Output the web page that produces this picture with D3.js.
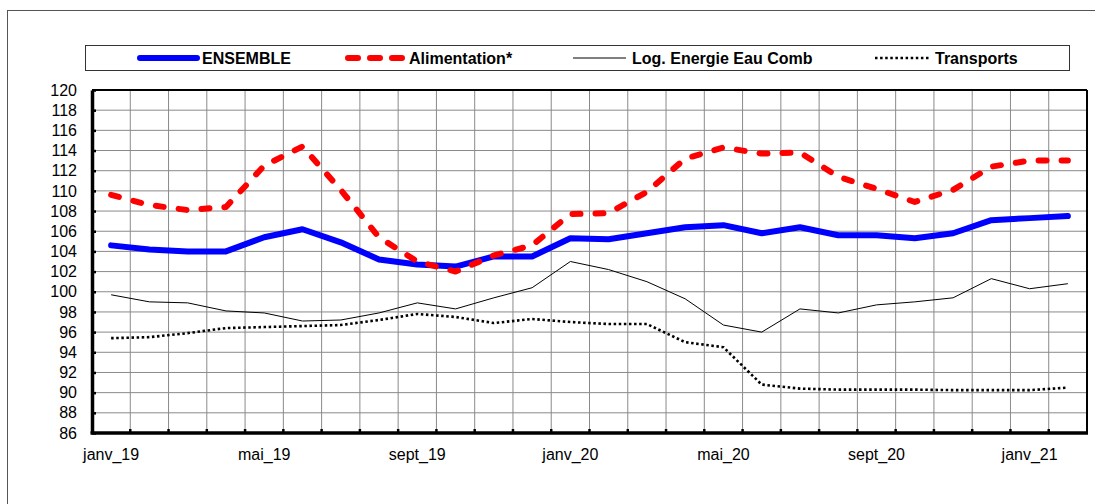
<!DOCTYPE html>
<html>
<head>
<meta charset="utf-8">
<script src="https://cdn.jsdelivr.net/npm/d3@7/dist/d3.min.js"></script>
<style>
  html, body { margin: 0; padding: 0; background: #fff; }
  svg { display: block; font-family: "Liberation Sans", Arial, sans-serif; }
</style>
</head>
<body>
<svg id="chart" width="1095" height="504"></svg>
<script>
const months = ["janv_19","févr_19","mars_19","avr_19","mai_19","juin_19","juil_19","août_19","sept_19","oct_19","nov_19","déc_19",
                "janv_20","févr_20","mars_20","avr_20","mai_20","juin_20","juil_20","août_20","sept_20","oct_20","nov_20","déc_20",
                "janv_21","févr_21"];
const shownLabels = ["janv_19","mai_19","sept_19","janv_20","mai_20","sept_20","janv_21"];
const yTicks = [86,88,90,92,94,96,98,100,102,104,106,108,110,112,114,116,118,120];

const ensemble = [104.6,104.2,104.0,104.0,105.4,106.2,104.9,103.2,102.7,102.5,103.5,103.5,105.3,105.2,105.8,106.4,106.6,105.8,106.4,105.6,105.6,105.3,105.8,107.1,107.3,107.5];
const alimentation = [109.6,108.6,108.1,108.4,112.5,114.4,110.1,105.4,103.0,102.0,103.6,104.6,107.7,107.8,109.9,113.2,114.3,113.7,113.8,111.4,110.2,108.9,110.1,112.4,113.0,113.0];
const logEnergie = [99.7,99.0,98.9,98.1,97.9,97.1,97.2,97.9,98.9,98.3,99.4,100.4,103.0,102.2,101.0,99.3,96.7,96.0,98.3,97.9,98.7,99.0,99.4,101.3,100.3,100.8];
const transports = [95.4,95.5,95.9,96.4,96.5,96.6,96.7,97.2,97.8,97.5,96.9,97.3,97.0,96.8,96.8,95.0,94.5,90.8,90.4,90.3,90.3,90.3,90.25,90.25,90.25,90.5];

const seriesNames = ["ENSEMBLE","Alimentation*","Log. Energie Eau Comb","Transports"];

const svg = d3.select("#chart");
const L = 92, R = 1087, T = 90, B = 433;

// outer frame
svg.append("rect").attr("x",7.5).attr("y",10.5).attr("width",1100).attr("height",510)
  .attr("fill","none").attr("stroke","#555").attr("stroke-width",1);

const x = d3.scaleBand().domain(months).range([L, R]).padding(0);
const y = d3.scaleLinear().domain([86,120]).range([B, T]);
const cx = d => x(d) + x.bandwidth()/2;

// grid
const g = svg.append("g");
g.selectAll("line.h").data(yTicks).join("line")
  .attr("x1",L).attr("x2",R).attr("y1",d=>y(d)).attr("y2",d=>y(d))
  .attr("stroke","#8a8a8a").attr("stroke-width",1);
const bounds = months.slice(1);
g.selectAll("line.v").data(bounds).join("line")
  .attr("x1",d=>x(d)).attr("x2",d=>x(d)).attr("y1",T).attr("y2",B)
  .attr("stroke","#8a8a8a").attr("stroke-width",1);

// x ticks (inward)
g.selectAll("line.xt").data(bounds).join("line")
  .attr("x1",d=>x(d)).attr("x2",d=>x(d)).attr("y1",B).attr("y2",B-4)
  .attr("stroke","#000").attr("stroke-width",2.5);

// border top/right
svg.append("line").attr("x1",L).attr("x2",R).attr("y1",T).attr("y2",T).attr("stroke","#000").attr("stroke-width",2);
svg.append("line").attr("x1",R).attr("x2",R).attr("y1",T).attr("y2",B).attr("stroke","#000").attr("stroke-width",2);

// y axis
const yAxis = d3.axisLeft(y).tickValues(yTicks).tickSizeInner(-4).tickSizeOuter(0).tickPadding(15);
const ya = svg.append("g").attr("transform",`translate(${L},0)`).call(yAxis);
ya.select(".domain").attr("stroke","#000").attr("stroke-width",3.5);
ya.selectAll(".tick line").attr("stroke","#000").attr("stroke-width",2.5);
ya.selectAll(".tick text").attr("font-size",16).attr("fill","#000").attr("font-family","Liberation Sans, Arial, sans-serif");

// x axis
const xAxis = d3.axisBottom(x).tickValues(shownLabels).tickSize(0).tickPadding(15.6);
const xa = svg.append("g").attr("transform",`translate(0,${B})`).call(xAxis);
xa.select(".domain").attr("stroke","#000").attr("stroke-width",3.5).attr("d",`M${L-1.5},0H${R+1}`);
xa.selectAll(".tick text").attr("font-size",16).attr("fill","#000").attr("font-family","Liberation Sans, Arial, sans-serif");

// lines
const styles = [
  {data: ensemble, stroke:"#0000ff", width:6, dash:null, cap:"round"},
  {data: alimentation, stroke:"#ff0000", width:6, dash:"8,15", cap:"round"},
  {data: logEnergie, stroke:"#000", width:1, dash:null, cap:"butt"},
  {data: transports, stroke:"#000", width:2.6, dash:"2.5,2.6", cap:"butt"}
];
const line = d3.line().x((d,i)=>cx(months[i])).y(d=>y(d));
// draw in order: thin ones first, then blue, then red
[3,2,0,1].forEach(k => {
  const s = styles[k];
  svg.append("path").datum(s.data).attr("d",line)
    .attr("fill","none").attr("stroke",s.stroke).attr("stroke-width",s.width)
    .attr("stroke-linecap",s.cap).attr("stroke-linejoin","round")
    .attr("stroke-dasharray",s.dash);
});

// legend
svg.append("rect").attr("x",85.5).attr("y",45.5).attr("width",984).attr("height",25)
  .attr("fill","#fff").attr("stroke","#333").attr("stroke-width",1);
const legendPos = [{x1:140,x2:197,tx:202},{x1:348,x2:405,tx:409},{x1:573,x2:626,tx:632},{x1:875,x2:929,tx:935}];
seriesNames.forEach((name,k) => {
  const s = styles[k], p = legendPos[k];
  svg.append("line").attr("x1",p.x1).attr("x2",p.x2).attr("y1",58).attr("y2",58)
    .attr("stroke",s.stroke).attr("stroke-width",s.width).attr("stroke-linecap",s.cap)
    .attr("stroke-dasharray",k===1?"10,12":s.dash);
  svg.append("text").attr("x",p.tx).attr("y",64).attr("font-size",16).attr("font-weight","bold")
    .attr("fill","#000").text(name);
});
</script>
</body>
</html>
